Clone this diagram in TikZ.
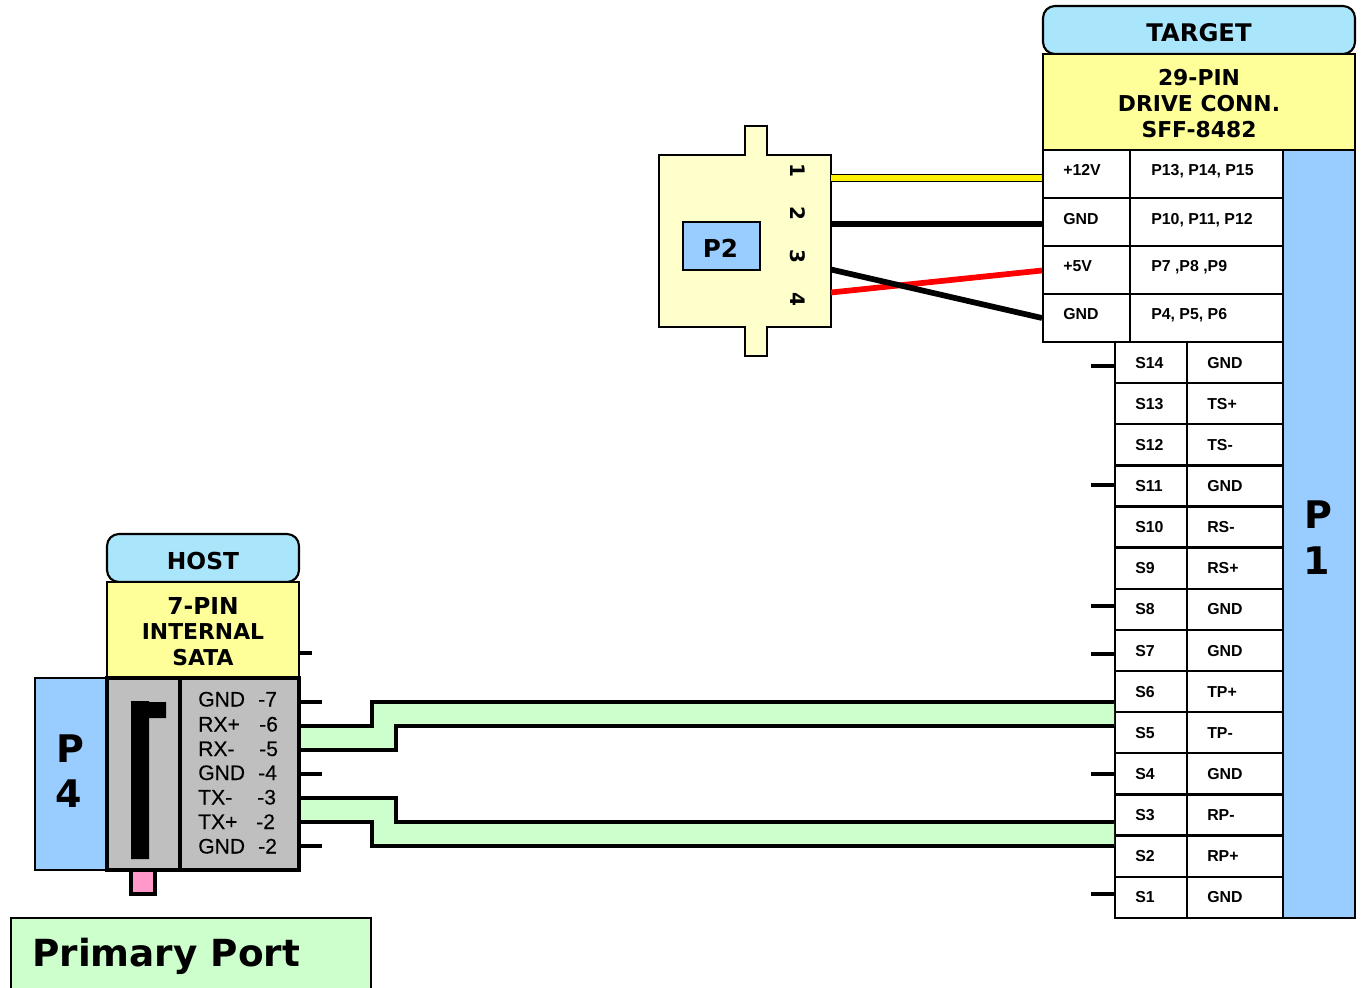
\documentclass[tikz,border=0pt]{standalone}
\usepackage{xcolor}
\usepackage{fontspec}
\setmainfont{Liberation Sans}
\newfontfamily\verdfont{DejaVu Sans}
\newfontfamily\hostfont[FakeBold=0.25]{Liberation Sans}
\usepackage{tikz}
\definecolor{headblue}{HTML}{A9E5FB}
\definecolor{connyellow}{HTML}{FFFF99}
\definecolor{portblue}{HTML}{99CCFF}
\definecolor{pairgreen}{HTML}{CCFFCC}
\definecolor{bodycream}{HTML}{FFFFCC}
\definecolor{bodygray}{HTML}{BFBFBF}
\definecolor{tabpink}{HTML}{FF99CC}
\tikzset{
  box/.style={draw=black,line width=1.6pt},
  grid/.style={draw=black,line width=1.7pt},
  stub/.style={draw=black,line width=2.4pt},
  pair/.style={draw=black,line width=2.6pt,line join=miter},
  power/.style={line width=4.3pt},
  title/.style={font=\verdfont\bfseries\fontsize{17.5}{20}\selectfont,anchor=center},
  titlesm/.style={font=\verdfont\bfseries\fontsize{16.4}{20}\selectfont,anchor=center},
  bigpin/.style={font=\verdfont\bfseries\fontsize{28.5}{32}\selectfont,anchor=center},
  digit/.style={font=\verdfont\bfseries\fontsize{15}{18}\selectfont,rotate=-90,anchor=center},
  small/.style={font=\bfseries\fontsize{11.9}{14}\selectfont,anchor=base west,inner sep=0pt},
  hostpin/.style={font=\hostfont\fontsize{15.8}{18}\selectfont,anchor=base west,inner sep=0pt}
}
\begin{document}
\begin{tikzpicture}[x=0.75pt,y=-0.75pt]
  \useasboundingbox (0,0) rectangle (1361,988);

  % target side
  \draw [box,fill=portblue](1283,150) rectangle (1355,918);
  \draw [box,fill=headblue,rounded corners=9pt](1043,6) rectangle (1355,54);
  \draw [box,fill=connyellow](1043,54) rectangle (1355,150);
  \node [title,font=\verdfont\bfseries\fontsize{18.2}{20}\selectfont] (targethead) at (1199,33) {TARGET};
  \node [titlesm] (targetline1) at (1199,78) {29-PIN};
  \node [titlesm] (targetline2) at (1199,104) {DRIVE CONN.};
  \node [titlesm] (targetline3) at (1199,130) {SFF-8482};
  \node [bigpin] (ponea) at (1318,515) {P};
  \node [bigpin] (poneb) at (1317,561) {1};

  % power pins
  \draw [grid](1043,150) -- (1043,342) -- (1283,342);
  \draw [grid](1130,150) -- (1130,342);
  \draw [grid](1043,198) -- (1283,198);
  \draw [grid](1043,246) -- (1283,246);
  \draw [grid](1043,294) -- (1283,294);
  \node [small] (pwra) at (1063,176) {+12V};
  \node [small] (pwrb) at (1063,224) {GND};
  \node [small] (pwrc) at (1063,272) {+5V};
  \node [small] (pwrd) at (1063,320) {GND};
  \node [small] (pinsa) at (1151,176) {P13, P14, P15};
  \node [small] (pinsb) at (1151,224) {P10, P11, P12};
  \node [small] (pinsc) at (1151,272) {P7 ,P8 ,P9};
  \node [small] (pinsd) at (1151,319) {P4, P5, P6};

  % signal pins
  \draw [grid](1115,342) -- (1115,918) -- (1283,918);
  \draw [grid](1187,342) -- (1187,918);
  \draw [grid](1115,383) -- (1283,383);
  \draw [grid](1115,424) -- (1283,424);
  \draw [grid](1115,465.5) -- (1283,465.5);
  \draw [grid](1115,506.5) -- (1283,506.5);
  \draw [grid](1115,547.5) -- (1283,547.5);
  \draw [grid](1115,589) -- (1283,589);
  \draw [grid](1115,630) -- (1283,630);
  \draw [grid](1115,671) -- (1283,671);
  \draw [grid](1115,712) -- (1283,712);
  \draw [grid](1115,753) -- (1283,753);
  \draw [grid](1115,794.5) -- (1283,794.5);
  \draw [grid](1115,835.5) -- (1283,835.5);
  \draw [grid](1115,877) -- (1283,877);
  \node [small] (sfourteen) at (1135,368) {S14};
  \node [small] (sthirteen) at (1135,409) {S13};
  \node [small] (stwelve) at (1135,450) {S12};
  \node [small] (seleven) at (1135,491) {S11};
  \node [small] (sten) at (1135,532) {S10};
  \node [small] (snine) at (1135,573) {S9};
  \node [small] (seight) at (1135,614) {S8};
  \node [small] (sseven) at (1135,656) {S7};
  \node [small] (ssix) at (1135,697) {S6};
  \node [small] (sfive) at (1135,738) {S5};
  \node [small] (sfour) at (1135,779) {S4};
  \node [small] (sthree) at (1135,820) {S3};
  \node [small] (stwo) at (1135,861) {S2};
  \node [small] (sone) at (1135,902) {S1};
  \node [small] (nfourteen) at (1207,368) {GND};
  \node [small] (nthirteen) at (1207,409) {TS+};
  \node [small] (ntwelve) at (1207,450) {TS-};
  \node [small] (neleven) at (1207,491) {GND};
  \node [small] (nten) at (1207,532) {RS-};
  \node [small] (nnine) at (1207,573) {RS+};
  \node [small] (neight) at (1207,614) {GND};
  \node [small] (nseven) at (1207,656) {GND};
  \node [small] (nsix) at (1207,697) {TP+};
  \node [small] (nfive) at (1207,738) {TP-};
  \node [small] (nfour) at (1207,779) {GND};
  \node [small] (nthree) at (1207,820) {RP-};
  \node [small] (ntwo) at (1207,861) {RP+};
  \node [small] (none) at (1207,902) {GND};

  % free ends of the short ground stubs
  \coordinate (stubaa) at (1091,366);
  \coordinate (stubab) at (1115,366);
  \coordinate (stubba) at (1091,485);
  \coordinate (stubbb) at (1115,485);
  \coordinate (stubca) at (1091,606);
  \coordinate (stubcb) at (1115,606);
  \coordinate (stubda) at (1091,654);
  \coordinate (stubdb) at (1115,654);
  \coordinate (stubea) at (1091,774);
  \coordinate (stubeb) at (1115,774);
  \coordinate (stubfa) at (1091,894);
  \coordinate (stubfb) at (1115,894);
  \draw [stub](stubaa) -- (stubab);
  \draw [stub](stubba) -- (stubbb);
  \draw [stub](stubca) -- (stubcb);
  \draw [stub](stubda) -- (stubdb);
  \draw [stub](stubea) -- (stubeb);
  \draw [stub](stubfa) -- (stubfb);

  % power connector
  \draw [box,fill=bodycream](659,155) -- (745,155) -- (745,126) -- (767,126) -- (767,155) -- (831,155)
    -- (831,327) -- (767,327) -- (767,356) -- (745,356) -- (745,327) -- (659,327) -- cycle;
  \draw [box,fill=portblue](683,222) rectangle (760,270);
  \node [title,font=\verdfont\bfseries\fontsize{18.5}{20}\selectfont] (ptwo) at (720.5,248) {P2};
  \node [digit] (wirea) at (798,170) {1};
  \node [digit] (wireb) at (798,213) {2};
  \node [digit] (wirec) at (798,256) {3};
  \node [digit] (wired) at (798,299) {4};

  \coordinate (powaa) at (831,178);
  \coordinate (powab) at (1042,178);
  \coordinate (powba) at (831,224);
  \coordinate (powbb) at (1042,224);
  \coordinate (powca) at (831,292.5);
  \coordinate (powcb) at (1042,270.5);
  \coordinate (powda) at (831,269.5);
  \coordinate (powdb) at (1042,318);
  \draw [line width=6.4pt,black](powaa) -- (powab);
  \draw [line width=4.4pt,yellow](powaa) -- (powab);
  \draw [power,black](powba) -- (powbb);
  \draw [power,red](powca) -- (powcb);
  \draw [power,black](powda) -- (powdb);

  % host side
  \draw [box,fill=portblue](35,678) rectangle (107,870);
  \draw [box,fill=headblue,rounded corners=9pt](107,534) rectangle (299,582);
  \draw [box,fill=connyellow](107,582) rectangle (299,678);
  \node [title] (hosthead) at (203,561) {HOST};
  \node [title] (hostline1) at (203,606) {7-PIN};
  \node [titlesm] (hostline2) at (203,632) {INTERNAL};
  \node [titlesm] (hostline3) at (203,658) {SATA};
  \node [bigpin] (pfoura) at (70,749) {P};
  \node [bigpin] (pfourb) at (69,794) {4};

  \draw [line width=2.6pt,fill=tabpink](131,868) -- (131,894) -- (155,894) -- (155,868);
  \draw [line width=2.8pt,fill=bodygray](107,678) rectangle (299,870);
  \draw [line width=2.8pt](180,678) -- (180,870);
  \fill [black](131,701) -- (149,701) -- (149,702) -- (166,702) -- (166,718) -- (149,718) -- (149,859) -- (131,859) -- cycle;

  \node [hostpin] (hostga) at (198,706.5) {GND};
  \node [hostpin] (hostrp) at (198,731.5) {RX+};
  \node [hostpin] (hostrn) at (198,756) {RX-};
  \node [hostpin] (hostgb) at (198,780) {GND};
  \node [hostpin] (hosttn) at (198,804.5) {TX-};
  \node [hostpin] (hosttp) at (198,829) {TX+};
  \node [hostpin] (hostgc) at (198,853.5) {GND};
  \node [hostpin] (numseven) at (258,706.5) {-7};
  \node [hostpin] (numsix) at (259,731.5) {-6};
  \node [hostpin] (numfive) at (259,756) {-5};
  \node [hostpin] (numfour) at (258,780) {-4};
  \node [hostpin] (numthree) at (257,804.5) {-3};
  \node [hostpin] (numtwo) at (256,829) {-2};
  \node [hostpin] (numtwob) at (258,853.5) {-2};

  \coordinate (hostubaa) at (300,653);
  \coordinate (hostubab) at (312,653);
  \coordinate (hostubba) at (300,702);
  \coordinate (hostubbb) at (322,702);
  \coordinate (hostubca) at (300,774);
  \coordinate (hostubcb) at (322,774);
  \coordinate (hostubda) at (300,846);
  \coordinate (hostubdb) at (322,846);
  \draw [stub](hostubaa) -- (hostubab);
  \draw [stub](hostubba) -- (hostubbb);
  \draw [stub](hostubca) -- (hostubcb);
  \draw [stub](hostubda) -- (hostubdb);

  % differential pairs
  \coordinate (rxpos) at (301,726);
  \coordinate (rxneg) at (301,750);
  \coordinate (txneg) at (301,798);
  \coordinate (txpos) at (301,822);
  \coordinate (sixw) at (1114,702);
  \coordinate (fivew) at (1114,726);
  \coordinate (threew) at (1114,822);
  \coordinate (twow) at (1114,846);
  \fill [pairgreen](rxpos) -- (372,726) -- (372,702) -- (sixw) -- (fivew) -- (396,726) -- (396,750) -- (rxneg) -- cycle;
  \fill [pairgreen](txneg) -- (396,798) -- (396,822) -- (threew) -- (twow) -- (372,846) -- (372,822) -- (txpos) -- cycle;
  \draw [pair](rxpos) -- (372,726) -- (372,702) -- (sixw);
  \draw [pair](rxneg) -- (396,750) -- (396,726) -- (fivew);
  \draw [pair](txneg) -- (396,798) -- (396,822) -- (threew);
  \draw [pair](txpos) -- (372,822) -- (372,846) -- (twow);

  % caption
  \draw [box,fill=pairgreen](11,918) rectangle (371,996);
  \node [font=\verdfont\bfseries\fontsize{28}{32}\selectfont,anchor=base west,inner sep=0pt] (primary) at (32,966) {Primary Port};
\end{tikzpicture}
\end{document}
